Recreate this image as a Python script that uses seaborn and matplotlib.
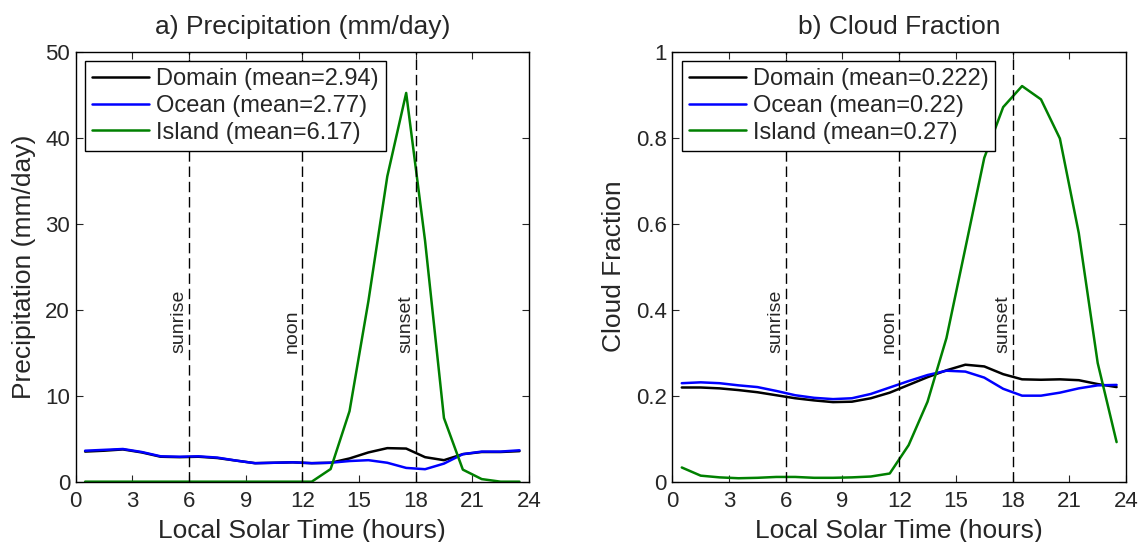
import numpy as np
import pandas as pd
import matplotlib
matplotlib.use("Agg")
import matplotlib.pyplot as plt
import matplotlib.transforms as mtransforms
from matplotlib.ticker import FormatStrFormatter
import seaborn as sns

# hourly means at half-hour local solar time
hours = np.arange(0.5, 24, 1.0)

precip_domain = [3.5, 3.6, 3.75, 3.4, 2.9, 2.85, 2.9, 2.75, 2.45, 2.15, 2.2, 2.25,
                 2.15, 2.2, 2.7, 3.4, 3.9, 3.85, 2.85, 2.5, 3.2, 3.45, 3.45, 3.55]
precip_ocean = [3.6, 3.7, 3.8, 3.45, 2.95, 2.9, 2.95, 2.8, 2.45, 2.15, 2.2, 2.25,
                2.15, 2.2, 2.4, 2.5, 2.2, 1.6, 1.45, 2.1, 3.2, 3.5, 3.5, 3.65]
precip_island = [0, 0, 0, 0, 0, 0, 0, 0, 0, 0, 0, 0,
                 0.0, 1.47, 8.2, 21.0, 35.5, 45.2, 28.0, 7.4, 1.4, 0.3, 0.0, 0.0]

cloud_domain = [0.219, 0.219, 0.217, 0.213, 0.208, 0.201, 0.194, 0.189, 0.185, 0.186, 0.194, 0.207,
                0.225, 0.243, 0.259, 0.272, 0.268, 0.250, 0.238, 0.237, 0.238, 0.236, 0.227, 0.220]
cloud_ocean = [0.229, 0.231, 0.229, 0.224, 0.220, 0.211, 0.201, 0.195, 0.192, 0.194, 0.204, 0.219,
               0.234, 0.248, 0.258, 0.256, 0.242, 0.216, 0.200, 0.200, 0.207, 0.217, 0.224, 0.225]
cloud_island = [0.033, 0.014, 0.010, 0.008, 0.009, 0.011, 0.011, 0.009, 0.009, 0.010, 0.012, 0.019,
                0.085, 0.186, 0.334, 0.543, 0.753, 0.871, 0.920, 0.889, 0.798, 0.578, 0.276, 0.092]

precip_labels = ["Domain (mean=2.94)", "Ocean (mean=2.77)", "Island (mean=6.17)"]
cloud_labels = ["Domain (mean=0.222)", "Ocean (mean=0.22)", "Island (mean=0.27)"]

events = {"sunrise": 6, "noon": 12, "sunset": 18}

sns.set_style("ticks")
plt.rcParams["font.family"] = ["Liberation Sans", "DejaVu Sans"]
plt.rcParams["lines.scale_dashes"] = False
plt.rcParams["xtick.direction"] = "in"
plt.rcParams["ytick.direction"] = "in"


def make_frame(series, labels):
    parts = []
    for vals, lab in zip(series, labels):
        parts.append(pd.DataFrame({"hour": hours, "value": vals, "region": lab}))
    return pd.concat(parts, ignore_index=True)


def draw_panel(ax, df, labels, ylim, yticks, ylabel, title):
    sns.lineplot(data=df, x="hour", y="value", hue="region", hue_order=labels,
                 palette=["black", "#0000ff", "#008000"], linewidth=1.8, ax=ax)
    trans = mtransforms.blended_transform_factory(ax.transData, ax.transAxes)
    for name, xpos in events.items():
        ax.axvline(xpos, color="black", linewidth=1.0, dashes=(7.5, 3.5), zorder=3)
        ax.text(xpos - 0.08, 0.3, name, rotation=90, ha="right", va="bottom",
                fontsize=14, transform=trans)
    ax.set_xlim(0, 24)
    ax.set_xticks(range(0, 25, 3))
    ax.set_ylim(*ylim)
    ax.set_yticks(yticks)
    ax.yaxis.set_major_formatter(FormatStrFormatter("%g"))
    ax.tick_params(labelsize=16, top=True, right=True, length=5, width=0.8)
    ax.tick_params(axis="x", pad=7)
    ax.tick_params(axis="y", pad=4)
    for sp in ax.spines.values():
        sp.set_visible(True)
        sp.set_linewidth(1.0)
        sp.set_color("black")
    ax.set_xlabel("Local Solar Time (hours)", fontsize=19, labelpad=5)
    ax.set_ylabel(ylabel, fontsize=19, labelpad=7)
    ax.set_title(title, fontsize=19, pad=13)
    leg = ax.legend(loc="upper left", fontsize=17, frameon=True, fancybox=False,
                    edgecolor="black", framealpha=1, handlelength=2.4,
                    handletextpad=0.3, labelspacing=0.2, borderpad=0.3,
                    borderaxespad=0.4)
    leg.get_frame().set_linewidth(1.0)


fig = plt.figure(figsize=(11.38, 5.42), dpi=100)
ax1 = fig.add_axes([0.0665, 0.1113, 0.3983, 0.7934])
ax2 = fig.add_axes([0.5908, 0.1113, 0.3987, 0.7934])

draw_panel(ax1, make_frame([precip_domain, precip_ocean, precip_island], precip_labels),
           precip_labels, (0, 50), range(0, 51, 10), "Precipitation (mm/day)",
           "a) Precipitation (mm/day)")
draw_panel(ax2, make_frame([cloud_domain, cloud_ocean, cloud_island], cloud_labels),
           cloud_labels, (0, 1), [0, 0.2, 0.4, 0.6, 0.8, 1.0], "Cloud Fraction",
           "b) Cloud Fraction")

fig.savefig("out.png", dpi=100)
